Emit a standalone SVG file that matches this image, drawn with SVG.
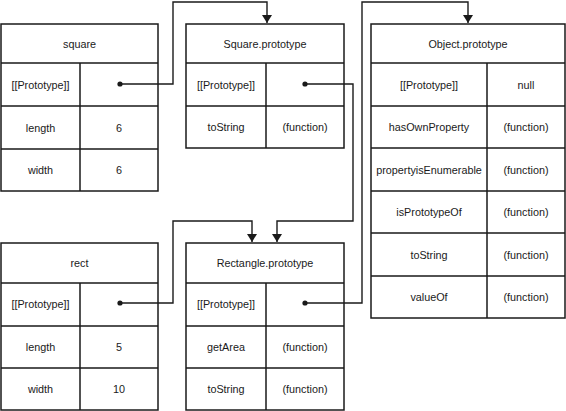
<svg xmlns="http://www.w3.org/2000/svg" width="566" height="411" viewBox="0 0 566 411">
<style>
.box{fill:#fff;stroke:#1a1a1a;stroke-width:1.5}
.ln{stroke:#1a1a1a;stroke-width:1.5;fill:none}
.t{font-family:"Liberation Sans",Arial,sans-serif;font-size:10.8px;fill:#1a1a1a;text-anchor:middle;dominant-baseline:central}
.c{fill:none;stroke:#1a1a1a;stroke-width:1.4}
.dot{fill:#1a1a1a}
</style>
<defs>
<marker id="arr" markerWidth="8" markerHeight="10" refX="8" refY="5" orient="auto" markerUnits="userSpaceOnUse" viewBox="0 0 8 10">
<path d="M0,0 L8,5 L0,10 Z" fill="#1a1a1a"/>
</marker>
</defs>
<rect width="566" height="411" fill="#fff"/>
<g id="square">
<rect class="box" x="1" y="24" width="157" height="167"/>
<path class="ln" d="M1,63H158M1,106H158M1,149H158M80,63V191"/>
<text class="t" x="79.5" y="43.5">square</text>
<text class="t" x="40.5" y="84.5">[[Prototype]]</text>
<text class="t" x="40.5" y="127.5">length</text>
<text class="t" x="119" y="127.5">6</text>
<text class="t" x="40.5" y="170">width</text>
<text class="t" x="119" y="170">6</text>
</g>
<g id="square-prototype">
<rect class="box" x="186" y="24" width="158" height="124"/>
<path class="ln" d="M186,63H344M186,106H344M266,63V148"/>
<text class="t" x="265" y="43.5">Square.prototype</text>
<text class="t" x="226" y="84.5">[[Prototype]]</text>
<text class="t" x="226" y="127">toString</text>
<text class="t" x="305" y="127">(function)</text>
</g>
<g id="object-prototype">
<rect class="box" x="371" y="24" width="194" height="294"/>
<path class="ln" d="M371,63H565M371,106H565M371,148H565M371,191H565M371,233H565M371,276H565M487,63V318"/>
<text class="t" x="468" y="43.5">Object.prototype</text>
<text class="t" x="429" y="84.5">[[Prototype]]</text>
<text class="t" x="526" y="84.5">null</text>
<text class="t" x="429" y="127">hasOwnProperty</text>
<text class="t" x="526" y="127">(function)</text>
<text class="t" x="429" y="169.5">propertyisEnumerable</text>
<text class="t" x="526" y="169.5">(function)</text>
<text class="t" x="429" y="212">isPrototypeOf</text>
<text class="t" x="526" y="212">(function)</text>
<text class="t" x="429" y="254.5">toString</text>
<text class="t" x="526" y="254.5">(function)</text>
<text class="t" x="429" y="297">valueOf</text>
<text class="t" x="526" y="297">(function)</text>
</g>
<g id="rect">
<rect class="box" x="1" y="243" width="157" height="167"/>
<path class="ln" d="M1,283H158M1,326H158M1,368H158M80,283V410"/>
<text class="t" x="79.5" y="263">rect</text>
<text class="t" x="40.5" y="304">[[Prototype]]</text>
<text class="t" x="40.5" y="347">length</text>
<text class="t" x="119" y="347">5</text>
<text class="t" x="40.5" y="389">width</text>
<text class="t" x="119" y="389">10</text>
</g>
<g id="rectangle-prototype">
<rect class="box" x="186" y="243" width="158" height="167"/>
<path class="ln" d="M186,283H344M186,326H344M186,368H344M266,283V410"/>
<text class="t" x="265" y="263">Rectangle.prototype</text>
<text class="t" x="226" y="304">[[Prototype]]</text>
<text class="t" x="226" y="347">getArea</text>
<text class="t" x="305" y="347">(function)</text>
<text class="t" x="226" y="389">toString</text>
<text class="t" x="305" y="389">(function)</text>
</g>
<g id="connectors">
<circle class="dot" cx="120" cy="84" r="2.6"/>
<path class="c" d="M120,84H173V2H267V23" marker-end="url(#arr)"/>
<circle class="dot" cx="305" cy="84" r="2.6"/>
<path class="c" d="M305,84H353V221H277V242" marker-end="url(#arr)"/>
<circle class="dot" cx="120" cy="303" r="2.6"/>
<path class="c" d="M120,303H173V221H252V242" marker-end="url(#arr)"/>
<circle class="dot" cx="305" cy="303" r="2.6"/>
<path class="c" d="M305,303H362V2H468V23" marker-end="url(#arr)"/>
</g>
</svg>
